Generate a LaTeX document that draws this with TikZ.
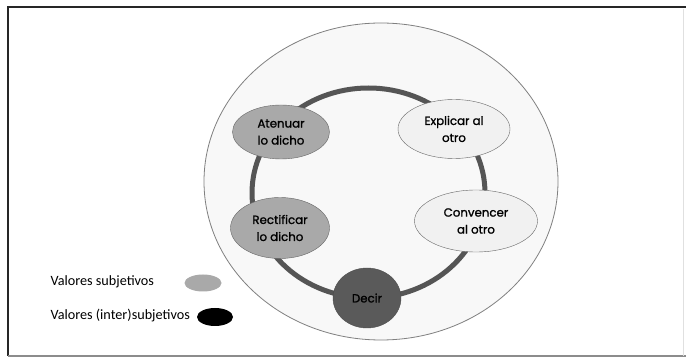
\documentclass[tikz,border=0pt]{standalone}
\usepackage{fontspec}
\setmainfont{Carlito}
\newfontfamily\labelfont{Poppins}[FakeBold=1.2]
\usetikzlibrary{shapes.geometric,positioning}

\definecolor{ringgray}{HTML}{555555}
\definecolor{darkfill}{HTML}{5A5A5A}
\definecolor{midfill}{HTML}{A9A9A9}
\definecolor{lightfill}{HTML}{F1F1F1}
\definecolor{backfill}{HTML}{F8F8F8}

\begin{document}
\begin{tikzpicture}[x=1pt,y=-1pt,
    subj/.style={ellipse,draw=black!60,fill=midfill,inner sep=0pt,align=center,
        font=\labelfont\fontsize{11.8}{17}\selectfont},
    other/.style={ellipse,draw=black!60,fill=lightfill,inner sep=0pt,align=center,
        font=\labelfont\fontsize{11.8}{17}\selectfont},
    legtext/.style={anchor=west,font=\fontsize{14.2}{16}\selectfont}]
    \useasboundingbox (0,0) rectangle (686,358);

    % frame
    \fill[white] (0,0) rectangle (686,358);
    \draw[line width=2.5pt,black!85] (7,7) -- (686,7);
    \draw[line width=2pt,black!85] (8,7) -- (8,356);
    \draw[line width=1.5pt,black!45] (8,356) -- (686,356);
    \draw[line width=0.8pt,black!12] (683,9) -- (683,356);

    % outer disc and ring
    \coordinate (centro) at (381,181.5);
    \filldraw[fill=backfill,draw=black!50,line width=0.8pt] (centro) ellipse [x radius=177, y radius=158.5];
    \coordinate (anillo) at (368.5,193);
    \draw[ringgray,line width=5pt] (anillo) ellipse [x radius=116.5, y radius=105];

    % values around the ring
    \node[subj,minimum width=97pt,minimum height=54pt] (atenuar) at (281,132) {Atenuar\\lo dicho};
    \node[subj,minimum width=99pt,minimum height=61pt] (rectificar) at (280,228) {Rectificar\\lo dicho};
    \node[other,minimum width=112pt,minimum height=59pt] (explicar) at (454,129) {Explicar al\\otro};
    \node[other,minimum width=123pt,minimum height=62pt] (convencer) at (476,221) {Convencer\\al otro};
    \node[ellipse,draw=black!70,fill=darkfill,minimum width=68pt,minimum height=60pt,inner sep=0pt,
        font=\labelfont\fontsize{11.8}{17}\selectfont] (decir) at (367,298) {Decir};

    % legend
    \node[legtext] (subjetivos) at (47,282) {Valores subjetivos};
    \node[ellipse,fill=midfill,minimum width=37pt,minimum height=17pt,inner sep=0pt] (clave1) at (203,283) {};
    \node[legtext] (intersubjetivos) at (47,316) {Valores (inter)subjetivos};
    \node[ellipse,fill=black,minimum width=36pt,minimum height=18pt,inner sep=0pt] (clave2) at (215,317) {};
\end{tikzpicture}
\end{document}
